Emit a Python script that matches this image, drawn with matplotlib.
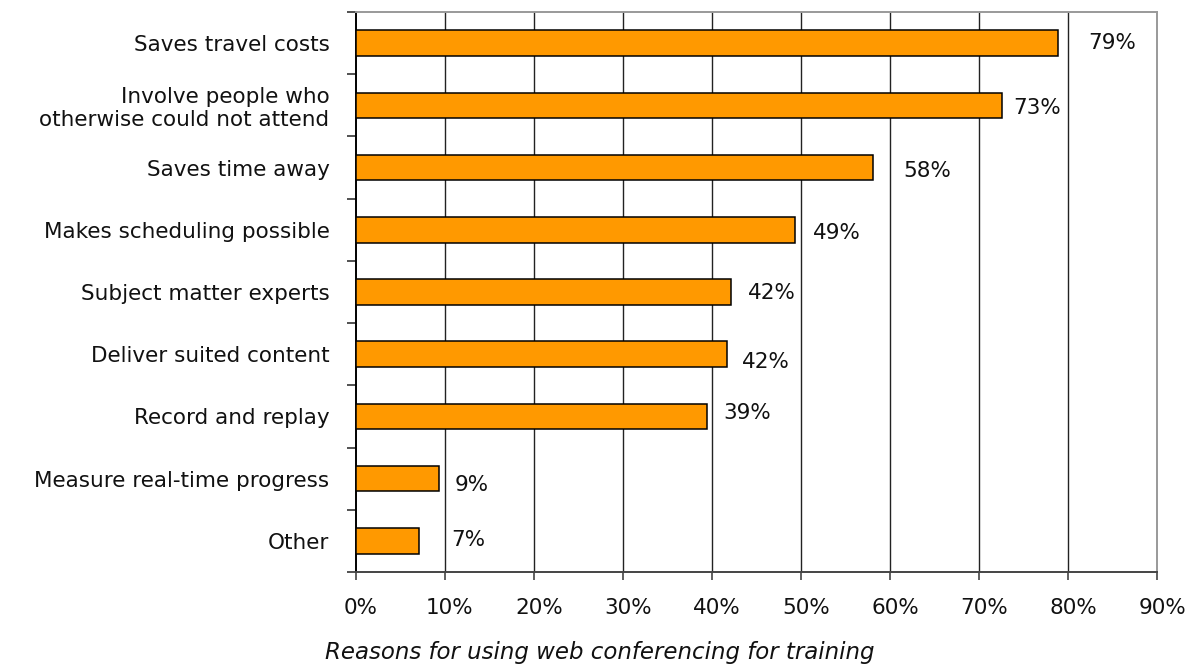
import matplotlib
matplotlib.use("Agg")
import matplotlib.pyplot as plt
from matplotlib.ticker import FixedLocator
import matplotlib.transforms as mtransforms

plt.rcParams['font.family'] = ['DejaVu Sans']

# Survey results: share of respondents citing each reason (%)
reasons = [
    "Saves travel costs",
    "Involve people who\notherwise could not attend",
    "Saves time away",
    "Makes scheduling possible",
    "Subject matter experts",
    "Deliver suited content",
    "Record and replay",
    "Measure real-time progress",
    "Other",
]
shares = [78.9, 72.6, 58.1, 49.3, 42.1, 41.7, 39.4, 9.3, 7.1]
xtick_values = [0, 10, 20, 30, 40, 50, 60, 70, 80, 90]
title_text = "Reasons for using web conferencing for training"

# Value-label nudges (pixels right of bar end, pixels below bar centre)
label_dx = [30, 11, 30, 18, 17, 15, 17, 16, 32]
label_dy = [0, 3, 3, 3, 1, 8, -3, 6, -1]

fig = plt.figure(figsize=(12, 6.67), dpi=100)
ax = fig.add_axes([356 / 1200, 1 - 572 / 667, (1157 - 356) / 1200, (572 - 12) / 667])

ypos = list(range(len(reasons)))
ax.barh(ypos, shares, height=0.41, color="#FF9900", edgecolor="black",
        linewidth=1.1, zorder=3)

ax.set_xlim(0, 90)
ax.set_ylim(len(reasons) - 0.5, -0.5)

# vertical gridlines
for v in xtick_values[1:-1]:
    ax.axvline(v, color="#222222", linewidth=1.0, zorder=1)

# spines
ax.spines['left'].set_color("black")
ax.spines['left'].set_linewidth(1.4)
ax.spines['bottom'].set_color("#444444")
ax.spines['bottom'].set_linewidth(1.4)
ax.spines['top'].set_color("#999999")
ax.spines['top'].set_linewidth(1.4)
ax.spines['right'].set_color("#999999")
ax.spines['right'].set_linewidth(1.4)

# x axis
ax.set_xticks(xtick_values)
ax.set_xticklabels([f"{v}%" for v in xtick_values], fontsize=15.5)
ax.tick_params(axis='x', direction='out', length=6, width=1.2, color="#444444",
               pad=13, labelcolor="#111111")
shift = mtransforms.ScaledTranslation(5 / 100, 0, fig.dpi_scale_trans)
for lbl in ax.get_xticklabels():
    lbl.set_transform(lbl.get_transform() + shift)

# y axis: labels at category centres, tick marks at category boundaries
ax.set_yticks(ypos)
ax.set_yticklabels(reasons, fontsize=15.5, linespacing=1.15)
ax.tick_params(axis='y', which='major', length=0, pad=19, labelcolor="#111111")
ax.yaxis.set_minor_locator(FixedLocator([i - 0.5 for i in range(len(reasons) + 1)]))
ax.tick_params(axis='y', which='minor', direction='out', length=6.5, width=1.2,
               color="#333333")

# value labels
for y, v, dx, dy in zip(ypos, shares, label_dx, label_dy):
    off = mtransforms.offset_copy(ax.transData, fig=fig, x=dx, y=-dy, units='dots')
    ax.text(v, y, f"{v:.0f}%", transform=off, ha='left', va='center',
            fontsize=15.5, color="#111111", zorder=4)

fig.text(0.5, 1 - 653 / 667, title_text, ha='center', va='center',
         fontsize=16.5, style='italic', color="#111111")

fig.savefig("out.png", dpi=100)
